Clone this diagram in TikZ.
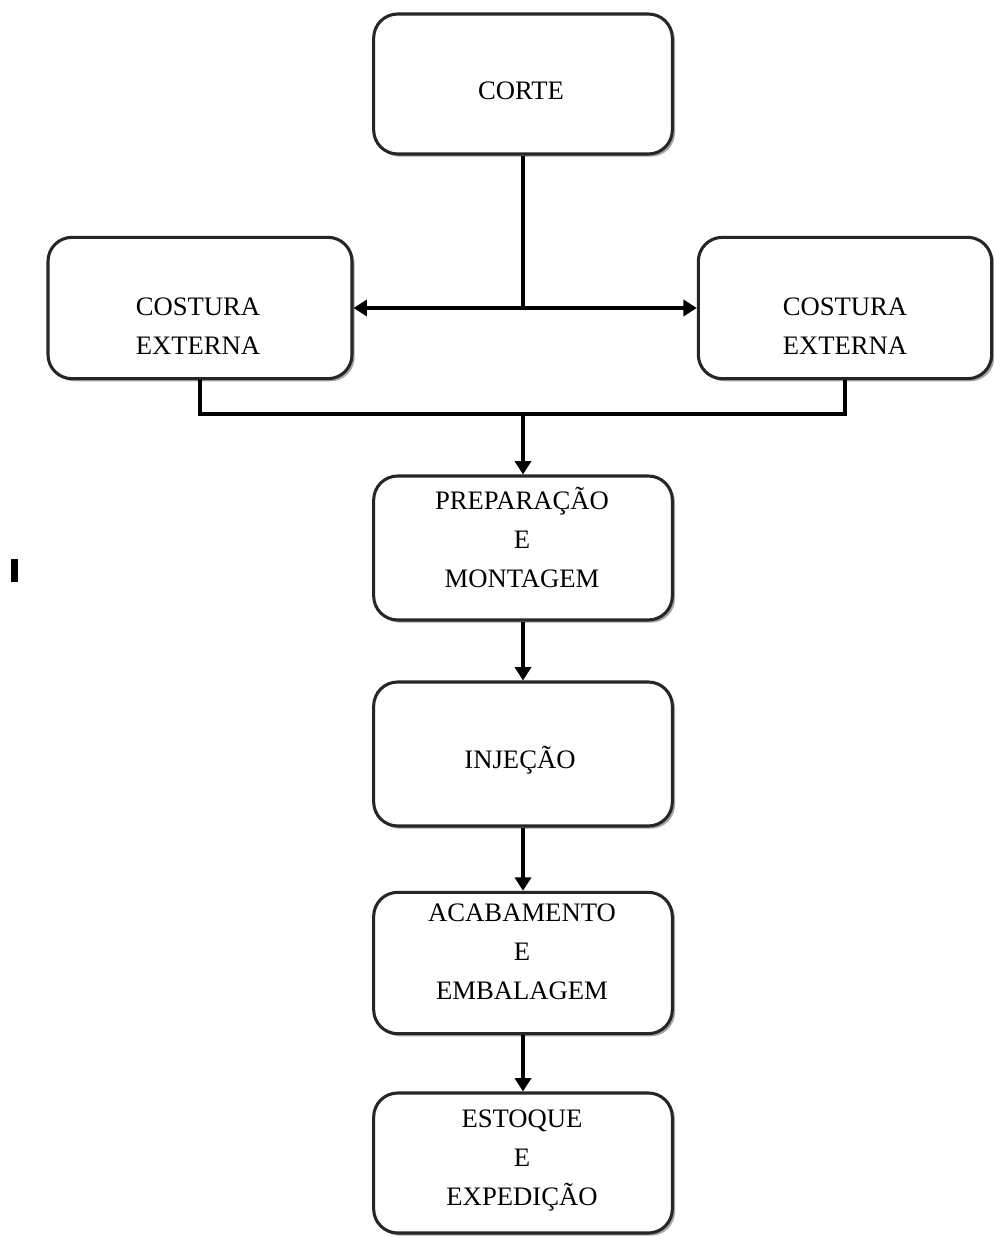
\documentclass[tikz,border=0pt]{standalone}
\usepackage{fontspec}
\setmainfont{Liberation Serif}
\usetikzlibrary{arrows.meta,shadows}
\tikzset{
  etapa/.style={draw=black!85,line width=2.3pt,rounded corners=18pt,fill=white,
    drop shadow={shadow xshift=2pt,shadow yshift=-2pt,fill=black!35,opacity=1},
    minimum width=224pt,minimum height=105pt,inner sep=0pt},
  rotulo/.style={align=center,anchor=base,font=\fontsize{20pt}{29.25pt}\selectfont},
  liga/.style={line width=2.8pt},
  seta/.style={liga,-{Triangle[length=10pt,width=12pt]}}
}
\begin{document}
\begin{tikzpicture}[x=0.75pt,y=0.75pt,yscale=-1,xscale=1]
\useasboundingbox (0,0) rectangle (994,1237);
%Rounded Rect
\node[etapa] (corte) at (523,84) {};
\node[etapa,minimum width=228pt,minimum height=106pt] (esq) at (200,308) {};
\node[etapa,minimum width=220pt,minimum height=106pt] (dir) at (845,308) {};
\node[etapa,minimum height=108pt] (prep) at (523,548) {};
\node[etapa,minimum height=108pt] (inj) at (523,754) {};
\node[etapa,minimum height=106pt] (acab) at (523,963) {};
\node[etapa] (estq) at (523,1163) {};
% Text Node
\draw (521,100) node [rotulo] (tcorte) {CORTE};
\draw (198,354) node [rotulo] (tesq) {COSTURA\\EXTERNA};
\draw (845,354) node [rotulo] (tdir) {COSTURA\\EXTERNA};
\draw (522,587) node [rotulo] (tprep) {PREPARAÇÃO\\E\\MONTAGEM};
\draw (520,768) node [rotulo] (tinj) {INJEÇÃO};
\draw (522,999) node [rotulo] (tacab) {ACABAMENTO\\E\\EMBALAGEM};
\draw (522,1205) node [rotulo] (testq) {ESTOQUE\\E\\EXPEDIÇÃO};
%Straight Lines
\coordinate (ramo) at (523,308);
\coordinate (juncao) at (523,414);
\draw[liga] (corte.south) -- (ramo);
\draw[seta] (ramo) -- (esq.east);
\draw[seta] (ramo) -- (dir.west);
\draw[liga] (esq.south) |- (juncao) -| (dir.south);
\draw[seta] (juncao) -- (prep.north);
\draw[seta] (prep.south) -- (inj.north);
\draw[seta] (inj.south) -- (acab.north);
\draw[seta] (acab.south) -- (estq.north);
%Mark
\fill (11,559) rectangle (18,582);
\end{tikzpicture}
\end{document}
